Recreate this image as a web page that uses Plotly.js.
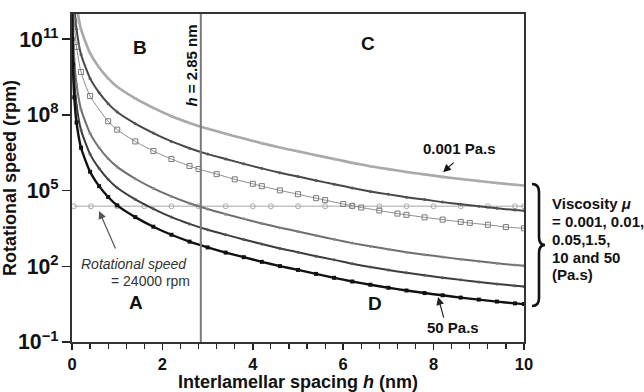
<!DOCTYPE html>
<html>
<head>
<meta charset="utf-8">
<script src="https://cdn.plot.ly/plotly-3.0.1.min.js"></script>
<style>html,body{margin:0;padding:0;background:#fff;}</style>
</head>
<body>
<div id="chart" style="width:644px;height:392px;"></div>
<script>
// Interlamellar spacing h (nm) grid used for most curves
const hGrid = [0.003, 0.01, 0.02, 0.05, 0.1, 0.2, 0.4, 0.6, 0.8, 1.0, 1.4, 1.8, 2.2, 2.6, 3.0, 3.4, 3.8, 4.2, 4.6, 5.0, 5.4, 5.8, 6.2, 6.6, 7.0, 7.4, 7.8, 8.2, 8.6, 9.0, 9.4, 9.8, 10];
// Rotational speed (rpm), viscosity 0.001 Pa.s
const speedMu0001 = [2.5e17, 5.0e15, 5.0e14, 2.5e13, 2.5e12, 2.5e11, 2.8e10, 7.6e9, 2.8e9, 1.3e9, 4.5e8, 1.9e8, 8.9e7, 4.8e7, 2.8e7, 1.8e7, 1.15e7, 7.6e6, 5.1e6, 3.6e6, 2.5e6, 1.8e6, 1.26e6, 9.3e5, 7.1e5, 5.5e5, 4.4e5, 3.5e5, 2.9e5, 2.4e5, 2.0e5, 1.7e5, 1.6e5];
// viscosity 0.01 Pa.s
const speedMu001 = [2.5e16, 5.0e14, 5.0e13, 2.5e12, 2.5e11, 2.5e10, 2.8e9, 7.6e8, 2.8e8, 1.3e8, 4.5e7, 1.9e7, 8.9e6, 4.8e6, 2.8e6, 1.8e6, 1.15e6, 7.6e5, 5.1e5, 3.6e5, 2.5e5, 1.8e5, 1.26e5, 9.3e4, 7.1e4, 5.5e4, 4.4e4, 3.5e4, 2.9e4, 2.4e4, 2.0e4, 1.7e4, 1.6e4];
// viscosity 0.05 Pa.s (open squares), own h positions
const hMu005 = [0.003, 0.01, 0.02, 0.05, 0.1, 0.2, 0.4, 0.8, 1.0, 1.4, 1.8, 2.2, 2.6, 2.8, 3.2, 3.6, 4.0, 4.2, 4.6, 5.0, 5.4, 5.6, 6.0, 6.2, 6.4, 6.8, 7.2, 7.4, 7.8, 8.2, 8.6, 8.8, 9.2, 9.6, 10.0];
const speedMu005 = [5e15, 1e14, 1e13, 5e11, 5e10, 5e9, 5.6e8, 5.6e7, 2.6e7, 8.9e6, 3.7e6, 1.78e6, 9.5e5, 7.2e5, 4.5e5, 2.8e5, 1.86e5, 1.5e5, 1.02e5, 7.2e4, 5.0e4, 4.2e4, 2.95e4, 2.5e4, 2.14e4, 1.62e4, 1.23e4, 1.1e4, 8.7e3, 7.1e3, 5.75e3, 5.25e3, 4.4e3, 3.6e3, 3.2e3];
// viscosity 1.5 Pa.s
const speedMu15 = [1.66e14, 3.3e12, 3.3e11, 1.66e10, 1.66e9, 1.66e8, 1.86e7, 5.0e6, 1.86e6, 8.7e5, 2.95e5, 1.23e5, 5.9e4, 3.16e4, 1.86e4, 1.17e4, 7.6e3, 5.0e3, 3.4e3, 2.4e3, 1.66e3, 1.17e3, 830, 620, 470, 360, 290, 235, 190, 158, 132, 112, 105];
// viscosity 10 Pa.s
const speedMu10 = [2.5e13, 5.0e11, 5.0e10, 2.5e9, 2.5e8, 2.5e7, 2.8e6, 7.6e5, 2.8e5, 1.3e5, 4.5e4, 1.9e4, 8.9e3, 4.8e3, 2.8e3, 1.8e3, 1.15e3, 760, 510, 360, 250, 180, 126, 93, 71, 55, 44, 35, 29, 24, 20, 17, 16];
// viscosity 50 Pa.s
const speedMu50 = [5.0e12, 1.0e11, 1.0e10, 5.0e8, 5.0e7, 5.0e6, 5.6e5, 1.5e5, 5.6e4, 2.6e4, 8.9e3, 3.7e3, 1.78e3, 950, 560, 350, 230, 150, 102, 72, 50, 35, 25, 18.6, 14.1, 11, 8.7, 7.1, 5.75, 4.8, 4.0, 3.4, 3.2];
// reference rotational speed line
const hRef = [0.04, 0.42, 1.0, 1.6, 2.2, 2.8, 3.4, 4.0, 4.4, 5.0, 5.6, 6.2, 6.8, 7.4, 8.0, 8.6, 9.2, 9.8, 10];
const refRpm = 24000;
const hCritical = 2.85;
// axis ranges
const xRange = [0, 10];
const yRangeLog = [-1, 12];

const F = 'Liberation Sans, Arial, sans-serif';
const PLOT_W = 452;

function curve(x, y, color, width, marker) {
  return {x: x, y: y, type: 'scatter', mode: 'lines+markers', line: {color: color, width: width, shape: 'spline', smoothing: 0.6}, marker: marker, hoverinfo: 'skip'};
}

// minor log tick marks for the y axis: every 1..9 x 10^d inside the range
const minorTickVals = [];
const minorTickSizes = [];
for (let d = yRangeLog[0]; d < yRangeLog[1]; d++) {
  for (let k = 1; k <= 9; k++) {
    minorTickVals.push(k * Math.pow(10, d));
    minorTickSizes.push(k === 1 ? 4.3 : 3);
  }
}
// a line-ew marker of size s is 1.4*s px long and centred on x; shift so it ends at the axis line
const pxToH = (xRange[1] - xRange[0]) / PLOT_W;

const traces = [
  {x: hRef, y: hRef.map(() => refRpm), type: 'scatter', mode: 'lines+markers',
   line: {color: '#c4c4c4', width: 1.5}, marker: {symbol: 'circle-open', size: 5, color: '#aaaaaa', line: {width: 1}}},
  curve(hGrid, speedMu0001, '#a8a8a8', 2.6, {size: 3, color: '#b0b0b0'}),
  curve(hGrid, speedMu001, '#474747', 2, {size: 3, color: '#555'}),
  curve(hMu005, speedMu005, '#8c8c8c', 1, {symbol: 'square-open', size: 5, color: '#7a7a7a', line: {width: 1}}),
  curve(hGrid, speedMu15, '#6e6e6e', 2, {size: 3, color: '#888'}),
  curve(hGrid, speedMu10, '#3c3c3c', 2, {size: 3, color: '#555'}),
  curve(hGrid, speedMu50, '#111111', 2.4, {symbol: 'square', size: 4, color: '#111'}),
  {x: minorTickSizes.map(s => xRange[0] - pxToH * (0.7 * s + 0.8)), y: minorTickVals, type: 'scatter', mode: 'markers', cliponaxis: false,
   marker: {symbol: 'line-ew-open', size: minorTickSizes, color: '#222', line: {width: 1, color: '#222'}}, hoverinfo: 'skip'}
];

const bold = (s) => ({family: F, size: s, color: '#111', weight: 'bold'});

function label(x, y, text, size, extra) {
  return Object.assign({x: x, y: y, xref: 'x', yref: 'y', text: text, showarrow: false, font: bold(size)}, extra || {});
}
function arrow(x, y, ax, ay, color) {
  return {x: x, y: y, xref: 'x', yref: 'y', text: '', showarrow: true, ax: ax, ay: ay,
          arrowhead: 2, arrowsize: 1.3, arrowwidth: 1.2, arrowcolor: color, standoff: 0, startstandoff: 0};
}
function side(py, text) {
  return {xref: 'paper', yref: 'paper', x: (550 - 72) / 452, y: 1 - (py - 14) / 328, xanchor: 'left', yanchor: 'middle',
          text: text, showarrow: false, font: bold(15)};
}

const annotations = [
  label(1.5, 10.68, 'B', 19),
  label(6.55, 10.84, 'C', 19),
  label(1.42, 0.58, 'A', 19),
  label(6.7, 0.54, 'D', 19),
  label(2.64, 9.97, '<i>h</i> = 2.85 nm', 15, {textangle: -90}),
  label(8.58, 6.68, '0.001 Pa.s', 15),
  label(8.43, -0.41, '50 Pa.s', 15),
  {x: 1.37, y: 2.09, xref: 'x', yref: 'y', text: '<i>Rotational speed</i>', showarrow: false, font: {family: F, size: 14, color: '#333'}},
  {x: 1.73, y: 1.41, xref: 'x', yref: 'y', text: '= 24000 rpm', showarrow: false, font: {family: F, size: 14, color: '#333'}},
  arrow(8.21, 5.73, 12, -11, '#111'),
  arrow(8.1, 0.78, 6, 22, '#222'),
  arrow(0.6, 4.19, 17, 39, '#555'),
  side(203, 'Viscosity <i>μ</i>'),
  side(221, '= 0.001, 0.01,'),
  side(239, '0.05,1.5,'),
  side(257, '10 and 50'),
  side(274, '(Pa.s)')
];

const shapes = [
  {type: 'line', xref: 'x', yref: 'paper', x0: hCritical, x1: hCritical, y0: 0, y1: 1, line: {color: '#7a7a7a', width: 2}},
  {type: 'path', xref: 'paper', yref: 'paper', xsizemode: 'pixel', ysizemode: 'pixel', xanchor: 1, yanchor: 1 - (245 - 14) / 328,
   path: 'M 8 61 Q 15 61 15 53 L 15 8 Q 15 0 21 0 Q 15 0 15 -8 L 15 -53 Q 15 -61 8 -61',
   line: {color: '#111', width: 2.6}}
];

const layout = {
  width: 644, height: 392,
  margin: {l: 72, r: 120, t: 14, b: 50, pad: 0},
  paper_bgcolor: '#fff', plot_bgcolor: '#fff',
  showlegend: false,
  font: {family: F, color: '#111'},
  xaxis: {
    range: xRange, tick0: 0, dtick: 2, showgrid: false, zeroline: false,
    showline: true, linecolor: '#333', linewidth: 2, mirror: true,
    ticks: 'outside', ticklen: 6, tickwidth: 1.5, tickcolor: '#222',
    minor: {dtick: 0.4, ticks: 'outside', ticklen: 5, tickwidth: 1.2, tickcolor: '#222', showgrid: false},
    tickfont: bold(16.5), automargin: false,
    title: {text: 'Interlamellar spacing <i>h</i> (nm)', font: bold(18), standoff: 3}
  },
  yaxis: {
    type: 'log', range: yRangeLog, tick0: -1, dtick: 3, showgrid: false, zeroline: false,
    showline: true, linecolor: '#333', linewidth: 2, mirror: true,
    ticks: 'outside', ticklen: 8, tickwidth: 1.5, tickcolor: '#222',
    exponentformat: 'power', tickfont: bold(17), automargin: false,
    title: {text: 'Rotational speed (rpm)', font: bold(18), standoff: 6}
  },
  annotations: annotations,
  shapes: shapes
};

Plotly.newPlot('chart', traces, layout, {displayModeBar: false, staticPlot: true});
</script>
</body>
</html>
